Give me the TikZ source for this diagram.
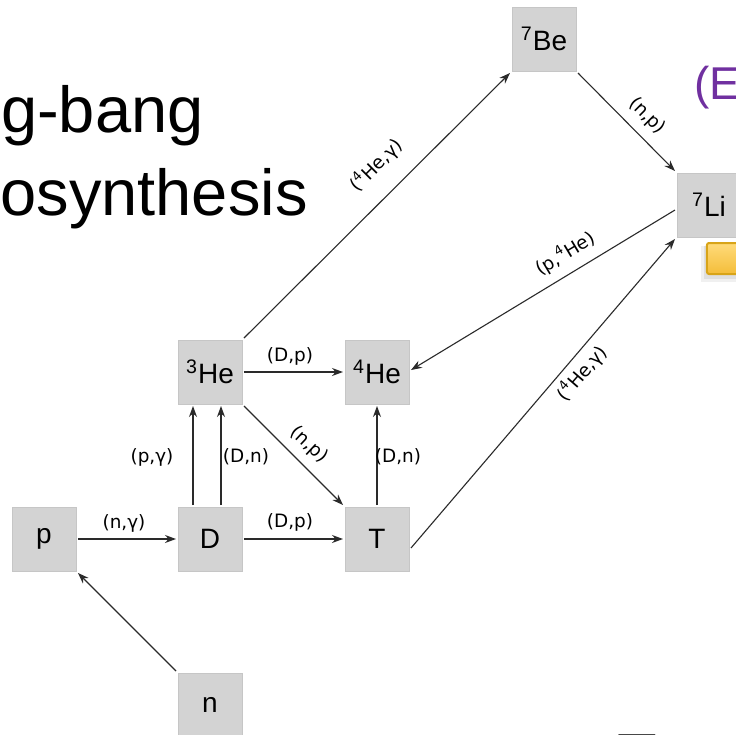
\documentclass[tikz,border=0pt]{standalone}
\usepackage{fontspec}
\setmainfont{Liberation Sans}
\newfontfamily\lblfont{DejaVu Sans}
\usetikzlibrary{arrows.meta}
\definecolor{boxgray}{HTML}{D3D3D3}
\definecolor{boxedge}{HTML}{C6C6C6}
\definecolor{linegray}{HTML}{2A2A2A}
\definecolor{titlepurple}{HTML}{7030A0}
\definecolor{ytop}{HTML}{FFDB7A}
\definecolor{ybot}{HTML}{F4BD3A}
\definecolor{yedge}{HTML}{D8A418}
\begin{document}
\begin{tikzpicture}[x=0.5pt,y=-0.5pt,
  nuc/.style={rectangle, fill=boxgray, draw=boxedge, line width=0.4pt,
    minimum width=32pt, minimum height=32pt, inner sep=0pt, outer sep=1pt,
    font=\fontsize{14}{16}\selectfont},
  react/.style={draw=linegray, line width=0.55pt, -{Stealth[length=5.5pt,width=4pt]}},
  lbl/.style={font=\lblfont\fontsize{9.2}{11}\selectfont, inner sep=0pt},
  big/.style={font=\fontsize{32.5}{39}\selectfont, inner sep=0pt}]
\useasboundingbox (0,0) rectangle (736,735);
\fill[white] (0,0) rectangle (736,735);

% title fragments
\node[big, anchor=base east] (t1) at (204,132) {g-bang};
\node[big, anchor=base east] (t2) at (308,215) {osynthesis};
\node[anchor=base west, inner sep=0pt, text=titlepurple,
  font=\fontsize{23}{27}\selectfont] (t3) at (694,99) {(E};
\node[big, anchor=base west] (t4) at (617,779) {T};

% nuclei
\node[nuc] (p) at (44,539) {p};
\node[nuc] (D) at (210,539) {D};
\node[nuc] (T) at (377,539) {T};
\node[nuc] (he3) at (210,372) {\textsuperscript{3}He};
\node[nuc] (he4) at (377,372) {\textsuperscript{4}He};
\node[nuc] (n) at (210,705) {n};
\node[nuc] (be7) at (544,39) {\textsuperscript{7}Be};
\node[nuc] (li7) at (709,205) {\textsuperscript{7}Li};

% yellow button with shadow
\fill[black, opacity=0.06] (701,246) rectangle (745,282);
\fill[black, opacity=0.07] (704,246) rectangle (745,279);
\draw[yedge, line width=1pt, top color=ytop, bottom color=ybot, rounded corners=1pt]
  (707,243) rectangle (748,274);

% reactions
\draw[react] (p) -- (D);
\draw[react] (D) -- (T);
\draw[react] (he3) -- (he4);
\draw[react] (T) -- (he4);
\draw[react] ([xshift=-8.5pt]D.north) -- ([xshift=-8.5pt]he3.south);
\draw[react] ([xshift=5.5pt]D.north) -- ([xshift=5.5pt]he3.south);
\draw[react] (n.north west) -- (p.south east);
\draw[react] (he3.south east) -- (T.north west);
\draw[react] (he3.north east) -- (be7.south west);
\draw[react] (be7.south east) -- (li7.north west);
\draw[react] ([yshift=-2.5pt]li7.west) -- ([yshift=1pt]he4.east);
\draw[react] ([yshift=-4.5pt]T.east) -- (li7.south west);

% reaction labels
\node[lbl] (l1) at (124,523) {(n,γ)};
\node[lbl] (l2) at (290,522) {(D,p)};
\node[lbl] (l3) at (290,356) {(D,p)};
\node[lbl] (l4) at (152,457) {(p,γ)};
\node[lbl] (l5) at (246,457) {(D,n)};
\node[lbl] (l6) at (398,457) {(D,n)};
\node[lbl, rotate=-43] (l7) at (309,445) {(n,p)};
\node[lbl, rotate=-45] (l8) at (647,116) {(n,p)};
\node[lbl, rotate=45] (l9) at (376,165) {(\textsuperscript{4}He,γ)};
\node[lbl, rotate=31] (l10) at (565,253) {(p,\textsuperscript{4}He)};
\node[lbl, rotate=49] (l11) at (582,373) {(\textsuperscript{4}He,γ)};
\end{tikzpicture}
\end{document}
